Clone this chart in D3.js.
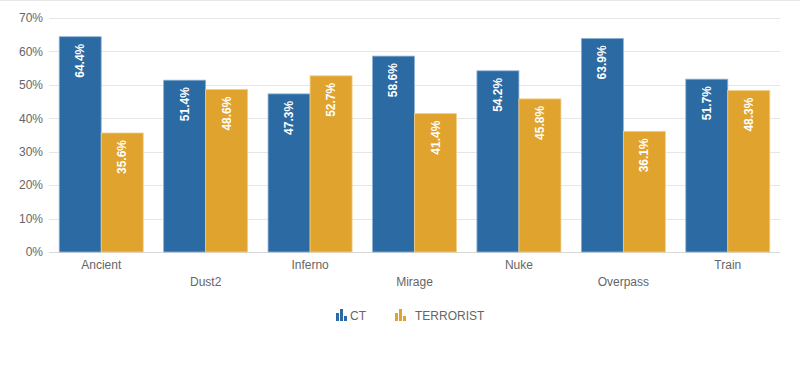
<!DOCTYPE html>
<html><head><meta charset="utf-8">
<script src="https://cdn.jsdelivr.net/npm/d3@7"></script>
<style>body{margin:0;background:#fff;font-family:"Liberation Sans",Arial,sans-serif;}</style>
</head><body><svg id="c" width="800" height="376"></svg>
<script>
const categories = ["Ancient","Dust2","Inferno","Mirage","Nuke","Overpass","Train"];
const seriesNames = ["CT","TERRORIST"];
const ctValues = [64.4,51.4,47.3,58.6,54.2,63.9,51.7];
const tValues = [35.6,48.6,52.7,41.4,45.8,36.1,48.3];
const yTicks = [0,10,20,30,40,50,60,70];
const colors = ["#2b6aa2","#e0a32e"];

const svg = d3.select("#c");
const mLeft = 49, mRight = 780, mTop = 18, mBottom = 252;
svg.append("line").attr("x1",0).attr("x2",800).attr("y1",0.5).attr("y2",0.5).attr("stroke","#e8e8e8");

const y = d3.scaleLinear().domain([0,70]).range([mBottom, mTop]);
const x0 = d3.scaleBand().domain(categories).range([mLeft, mRight]).padding(0);
const x1 = d3.scaleBand().domain(seriesNames).range([0, x0.bandwidth()]).paddingInner(0).paddingOuter(0.243);

// grid
svg.append("g").selectAll("line").data(yTicks).join("line")
  .attr("x1",mLeft).attr("x2",mRight)
  .attr("y1",d=>Math.round(y(d))+0.5).attr("y2",d=>Math.round(y(d))+0.5)
  .attr("stroke",d=>d===0?"#d8d8d8":"#e6e6e6");

const yAxis = d3.axisLeft(y).tickValues(yTicks).tickFormat(d=>d+"%").tickSize(0).tickPadding(6);
const ya = svg.append("g").attr("transform",`translate(${mLeft},0)`).call(yAxis);
ya.select(".domain").remove();
ya.selectAll("text").attr("fill","#666").attr("font-size","12px").attr("font-family","Liberation Sans, Arial, sans-serif");

const xAxis = d3.axisBottom(x0).tickSize(0).tickPadding(0);
const xa = svg.append("g").attr("transform",`translate(0,${mBottom})`).call(xAxis);
xa.select(".domain").remove();
xa.selectAll("text").attr("fill","#666").attr("font-size","12px").attr("font-family","Liberation Sans, Arial, sans-serif")
  .attr("dy",null).attr("y",(d,i)=> i%2===0 ? 17 : 34);

const data = categories.map((c,i)=>({cat:c, vals:[{s:"CT",v:ctValues[i],ci:0},{s:"TERRORIST",v:tValues[i],ci:1}]}));
const g = svg.append("g").selectAll("g").data(data).join("g").attr("transform",d=>`translate(${x0(d.cat)},0)`);
g.selectAll("rect").data(d=>d.vals).join("rect")
  .attr("x",d=>x1(d.s)).attr("width",x1.bandwidth())
  .attr("y",d=>y(d.v)).attr("height",d=>y(0)-y(d.v))
  .attr("fill",d=>colors[d.ci]).attr("stroke",d=>d.ci===0?"#8fb3d6":"#f0cf8a").attr("stroke-width",0.8);
g.selectAll("text").data(d=>d.vals).join("text")
  .attr("transform",d=>`translate(${x1(d.s)+x1.bandwidth()/2+4},${y(d.v)+7}) rotate(-90)`)
  .attr("text-anchor","end").attr("fill","#fff").attr("font-size","12px").attr("font-weight","bold")
  .attr("font-family","Liberation Sans, Arial, sans-serif")
  .text(d=>d.v.toFixed(1)+"%");

// legend
const legendX = [336, 395];
const lg = svg.append("g").selectAll("g").data(seriesNames).join("g").attr("transform",(d,i)=>`translate(${legendX[i]},309)`);
const iconBars = [[0,4,3,8],[4,0,3,12],[8,7,3,5]];
lg.each(function(d,i){
  const gg = d3.select(this);
  gg.selectAll("rect").data(iconBars).join("rect")
    .attr("x",b=>b[0]).attr("y",b=>b[1]).attr("width",b=>b[2]).attr("height",b=>b[3]).attr("fill",colors[i]);
  gg.append("text").attr("x", i===0?14:20).attr("y",11).attr("fill","#666").attr("font-size","12px")
    .attr("font-family","Liberation Sans, Arial, sans-serif").text(d);
});
</script></body></html>
